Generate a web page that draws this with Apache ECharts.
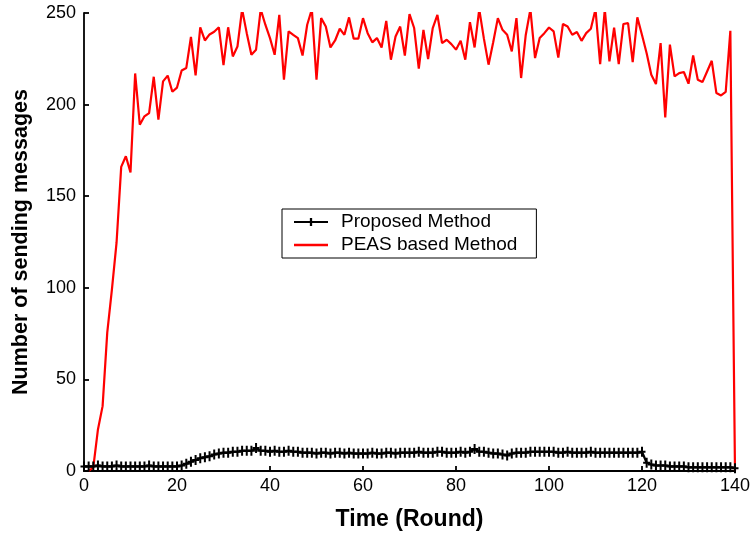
<!DOCTYPE html>
<html>
<head>
<meta charset="utf-8">
<script src="https://cdn.jsdelivr.net/npm/echarts@6/dist/echarts.min.js"></script>
<style>
html,body{margin:0;padding:0;background:#fff;}
#chart{width:754px;height:537px;}
</style>
</head>
<body>
<div id="chart"></div>
<script>
// Rounds 0..140 (index = round)
var xTicks = [0, 20, 40, 60, 80, 100, 120, 140];
var yTicks = [0, 50, 100, 150, 200, 250];
var seriesNames = ['Proposed Method', 'PEAS based Method'];

// Proposed Method: number of sending messages per round (0..140)
var proposed = [
  2.5,2.5,2.5,3,2.5,2.5,2.5,3,2.5,2.5,2.5,2.5,2.5,2.5,3,2.5,2.5,2.5,2.5,2.5,2.5,
  3,4,5,6,7,7.5,8,9,9.5,10,10,10.5,10.5,11,11,11,
  12.5,
  11,11,10.5,11,10.5,10.5,11,10.5,10.5,10,10,10,9.5,
  10,10,9.5,10,10,9.5,10,9.5,9.5,9.5,9.5,10,9.5,9.5,10,10,9.5,10,10,10,10,10.5,10,10,10,10.5,10.5,10,10,10,10.5,10,10.5,
  12,
  10.5,10.5,10,9.5,9.5,9,
  8.5,
  9.5,10,10,10,10.5,10.5,10.5,10.5,10.5,10.5,10,10,10.5,10,10,10,10,10.5,10,10,10,10,10,10,10,10,10,10,10.5,
  4.5,
  3.5,3,3,3,2.5,2.5,2.5,2.5,2,2,2,2,2,2,2,2,2,2,1.5
];

// PEAS based Method: number of sending messages per round (0..140)
var peas = [
  null,
  0, 2, 22.7, 35.4, 75.5, 99, 124.6, 166, 171.8, 163,
  217, 189, 193.6, 195.4, 215.2, 191.8, 212.7, 215.8, 207, 209.3,
  218.6, 220, 236.9, 216, 242.2, 235, 238.3, 239.8, 242.2, 221.6,
  242.2, 226.3, 231.7, 252, 239, 227.2, 230, 252, 243.6, 236.3,
  227.2, 249, 213.6, 240, 238.1, 236.3, 226.8, 243.6, 252, 213.6,
  247.2, 242.6, 231.2, 235, 241.4, 238.1, 247.6, 236, 236, 247.2,
  239, 234, 236.3, 231.2, 245.7, 224.5, 237.2, 242.6, 226.8, 249.4,
  241.8, 219.6, 240.8, 224.9, 241.8, 249, 233.6, 235.4, 233, 230,
  234.8, 224.5, 245, 231.2, 252, 236, 221.8, 234, 247.2, 240.8,
  238.1, 229, 247.2, 214.5, 238, 252, 225.4, 236.3, 239, 242.1,
  240, 225.7, 244, 242.6, 238.1, 239.6, 234.8, 239, 241.4, 252,
  222.1, 252, 223.6, 242, 222.1, 244, 244.5, 223.2, 247.6, 238,
  228, 216.3, 211.2, 233.6, 193, 232.7, 215.4, 217.2, 217.8, 211.4,
  226.8, 213.6, 212.3, 218.1, 223.9, 206.3, 205, 206.9, 240.3, 0
];

function pairs(arr) {
  var out = [];
  for (var i = 0; i < arr.length; i++) out.push([i, arr[i]]);
  return out;
}

var FONT = "'Liberation Sans', Arial, sans-serif";
var plusPath = 'path://M-1,-5 L1,-5 L1,-1 L3.5,-1 L3.5,1 L1,1 L1,5 L-1,5 L-1,1 L-3.5,1 L-3.5,-1 L-1,-1 Z';
var redLegendIcon = 'path://M0,0 L34,0 L34,2.4 L0,2.4 Z';

var chart = echarts.init(document.getElementById('chart'), null, {renderer: 'canvas'});
chart.setOption({
  animation: false,
  backgroundColor: '#ffffff',
  textStyle: {fontFamily: FONT, color: '#000'},
  grid: {left: 84, right: 19, top: 13, bottom: 66, containLabel: false},
  legend: {
    orient: 'vertical',
    left: 282,
    top: 209,
    data: [
      {name: seriesNames[0]},
      {name: seriesNames[1], icon: redLegendIcon}
    ],
    backgroundColor: '#fff',
    borderColor: '#000',
    borderWidth: 1,
    padding: [3, 19, 3, 11],
    itemWidth: 34,
    itemHeight: 10,
    itemGap: 3,
    symbolKeepAspect: true,
    textStyle: {fontFamily: FONT, fontSize: 19, color: '#000', lineHeight: 20, padding: [0, 0, 0, 8]}
  },
  xAxis: {
    type: 'value',
    min: 0,
    max: 140,
    interval: 20,
    name: 'Time (Round)',
    nameLocation: 'middle',
    nameGap: 37,
    nameTextStyle: {fontFamily: FONT, fontSize: 23, fontWeight: 'bold', color: '#000'},
    axisLine: {show: true, onZero: false, lineStyle: {color: '#000', width: 1.8}},
    axisTick: {show: true, inside: true, length: 5, lineStyle: {color: '#000', width: 1.8}},
    axisLabel: {fontFamily: FONT, fontSize: 18, color: '#000', margin: 6,
      formatter: function (v) { return xTicks.indexOf(v) >= 0 ? String(v) : ''; }},
    splitLine: {show: false}
  },
  yAxis: {
    type: 'value',
    min: 0,
    max: 250,
    interval: 50,
    name: 'Number of sending messages',
    nameLocation: 'middle',
    nameGap: 52,
    nameRotate: 90,
    nameTextStyle: {fontFamily: FONT, fontSize: 21.5, fontWeight: 'bold', color: '#000'},
    axisLine: {show: true, onZero: false, lineStyle: {color: '#000', width: 1.8}},
    axisTick: {show: true, inside: true, length: 5, lineStyle: {color: '#000', width: 1.8}},
    axisLabel: {fontFamily: FONT, fontSize: 18, color: '#000', margin: 8,
      formatter: function (v) { return yTicks.indexOf(v) >= 0 ? String(v) : ''; }},
    splitLine: {show: false}
  },
  series: [
    {
      name: seriesNames[0],
      type: 'line',
      data: pairs(proposed),
      symbol: plusPath,
      symbolSize: [7, 10],
      showSymbol: true,
      showAllSymbol: true,
      clip: true,
      lineStyle: {color: '#000', width: 2.2},
      itemStyle: {color: '#000', borderWidth: 0}
    },
    {
      name: seriesNames[1],
      type: 'line',
      data: pairs(peas),
      showSymbol: false,
      symbol: 'none',
      clip: true,
      connectNulls: false,
      lineStyle: {color: '#ff0000', width: 2.2},
      itemStyle: {color: '#ff0000'}
    }
  ]
});
</script>
</body>
</html>
